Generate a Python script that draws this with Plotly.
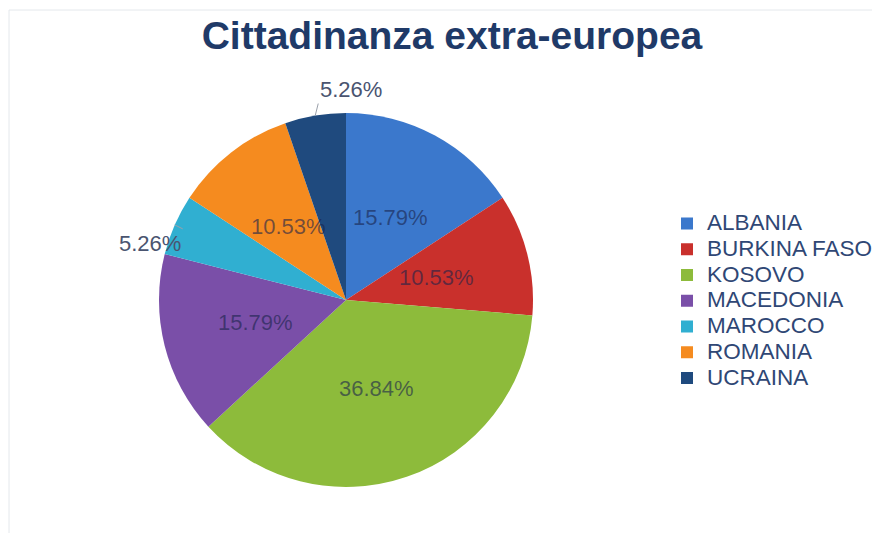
import math
import plotly.graph_objects as go

countries = ["ALBANIA", "BURKINA FASO", "KOSOVO", "MACEDONIA", "MAROCCO", "ROMANIA", "UCRAINA"]
counts = [3, 2, 7, 3, 1, 2, 1]
colors = ["#3B78CC", "#C9302C", "#8DBB3B", "#7A4FA8", "#30AFD1", "#F58B1F", "#1F4A7E"]
label_place = ["inside", "inside", "inside", "inside", "outside-left", "inside", "outside-top"]

W, H = 880, 533
cx, cy, r = 338, 292, 187          # pie centre / radius in figure pixels
FONT = "Liberation Sans, Arial, sans-serif"

legend_labels = ['<span style="font-size:22.5px">%s</span>' % c for c in countries]

fig = go.Figure(go.Pie(
    labels=legend_labels,
    values=counts,
    sort=False,
    direction="clockwise",
    rotation=0,
    marker=dict(colors=colors, line=dict(width=0)),
    textinfo="none",
    domain=dict(x=[(cx - r) / W, (cx + r) / W], y=[1 - (cy + r) / H, 1 - (cy - r) / H]),
    hovertemplate="%{customdata}: %{percent:.2%}<extra></extra>",
    customdata=countries,
))

# percentage labels placed from the data (cumulative angles)
total = sum(counts)
annotations = []
cum = 0
for v, place in zip(counts, label_place):
    mid = (cum + v / 2) / total * 2 * math.pi
    cum += v
    txt = f"{v / total * 100:.2f}%"
    if place == "inside":
        k = 0.5
        px = cx + k * r * math.sin(mid)
        py = cy - k * r * math.cos(mid)
        annotations.append(dict(
            x=px / W, y=1 - py / H, xref="paper", yref="paper", text=txt,
            showarrow=False, xanchor="center", yanchor="middle",
            font=dict(family=FONT, size=22, color="rgba(25,35,75,0.6)"),
        ))
    else:
        ex = cx + r * math.sin(mid)
        ey = cy - r * math.cos(mid)
        if place == "outside-top":
            annotations.append(dict(
                x=ex / W, y=1 - ey / H, xref="paper", yref="paper", text=txt,
                showarrow=True, arrowhead=0, arrowwidth=1, arrowcolor="#9AA0AA",
                ax=3, ay=-12, xanchor="left", yanchor="bottom",
                font=dict(family=FONT, size=22, color="#4A5470"),
            ))
        else:
            annotations.append(dict(
                x=ex / W, y=1 - ey / H, xref="paper", yref="paper", text=txt,
                showarrow=True, arrowhead=0, arrowwidth=1, arrowcolor="#9AA0AA",
                ax=8, ay=4, xanchor="right", yanchor="top",
                font=dict(family=FONT, size=22, color="#4A5470"),
            ))

fig.update_layout(
    width=W, height=H,
    margin=dict(l=0, r=0, t=0, b=0),
    paper_bgcolor="white",
    title=dict(
        text="<b>Cittadinanza extra-europea</b>",
        x=444 / W, xanchor="center", y=1 - 27 / H, yanchor="middle",
        font=dict(family=FONT, size=39, color="#1F3A68"),
    ),
    legend=dict(
        x=659 / W, xanchor="left", y=1 - 293 / H, yanchor="middle",
        font=dict(family=FONT, size=17.5, color="#2F4775"),
        itemwidth=30, tracegroupgap=0,
    ),
    showlegend=True,
    annotations=annotations,
    shapes=[dict(type="rect", xref="paper", yref="paper",
                 x0=1 / W, x1=1.01, y0=-0.01, y1=1 - 2 / H,
                 line=dict(color="#E4E8EC", width=1), fillcolor="rgba(0,0,0,0)")],
)

fig.write_html("out.html")
